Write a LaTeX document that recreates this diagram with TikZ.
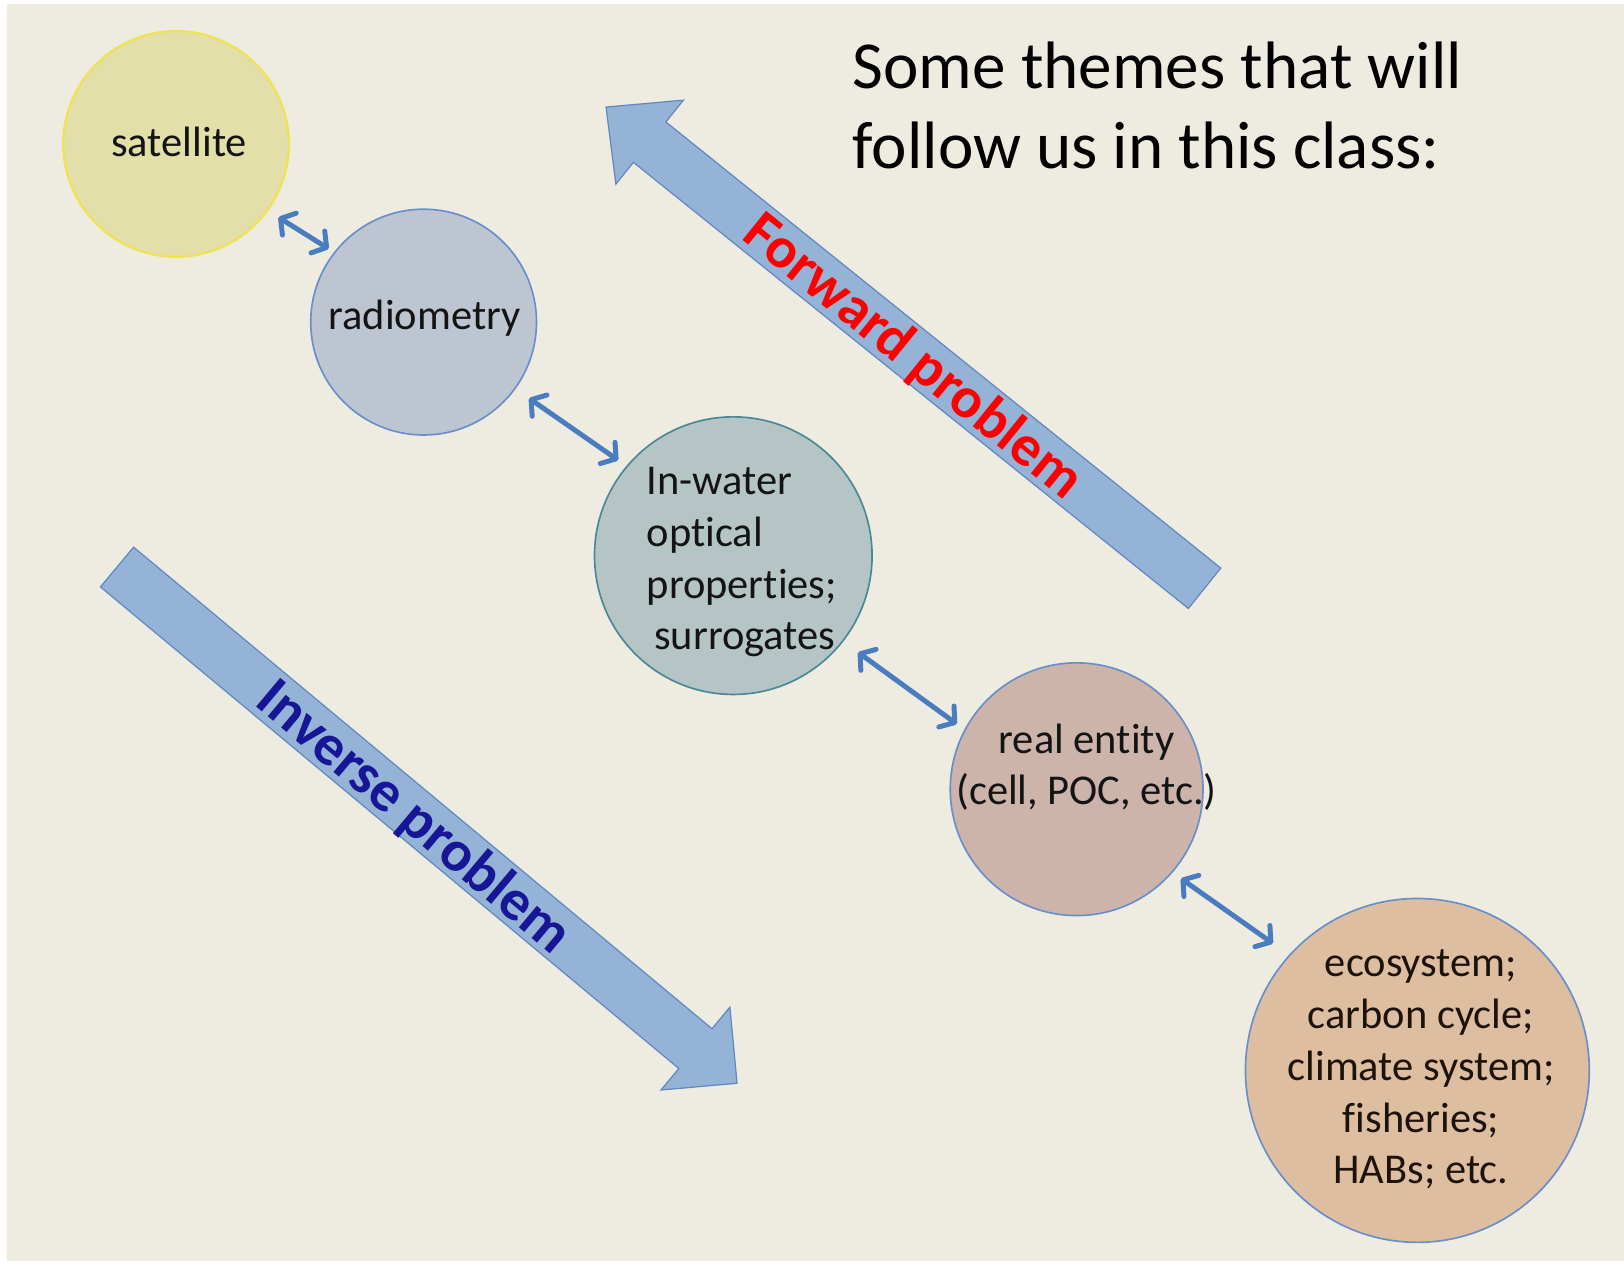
\documentclass[tikz,border=0pt]{standalone}
\usepackage{fontspec}
\setmainfont{Carlito}[Ligatures={NoCommon}]
\usetikzlibrary{arrows.meta}
\definecolor{bg}{RGB}{238,235,225}
\definecolor{linkblue}{RGB}{74,125,192}
\definecolor{blockfill}{RGB}{149,179,215}
\definecolor{blockdraw}{RGB}{98,136,194}
\definecolor{satfill}{RGB}{226,223,168}
\definecolor{satdraw}{RGB}{238,228,80}
\definecolor{radfill}{RGB}{189,198,208}
\definecolor{iopfill}{RGB}{181,196,196}
\definecolor{iopdraw}{RGB}{74,136,150}
\definecolor{realfill}{RGB}{204,180,170}
\definecolor{ecofill}{RGB}{222,190,161}
\definecolor{circdraw}{RGB}{104,143,203}
\definecolor{invblue}{RGB}{22,22,150}
\begin{document}
\begin{tikzpicture}[x=0.5pt,y=-0.5pt,
  bubble/.style={circle,inner sep=0pt,line width=0.8pt,draw=circdraw},
  bubbletext/.style={inner sep=0pt,text=black!92,font=\fontsize{20.5}{25}\selectfont},
  blockarrow/.style={fill=blockfill,draw=blockdraw,line width=0.6pt,line join=miter},
  arrowlabel/.style={inner sep=0pt,font=\fontsize{28}{30}\selectfont\bfseries},
  link/.style={draw=linkblue,line width=2.4pt,line cap=round,
    >={Straight Barb[length=5pt,width=12.5pt,line cap=round,line join=round]},<->}]
\useasboundingbox (0,0) rectangle (1568,1219);
\fill[white] (0,0) rectangle (1568,1219);
\fill[bg] (7,4) rectangle (1568,1217.5);

% block arrows
\begin{scope}[shift={(1163,568)},rotate=141.2]
  \draw[blockarrow] (0,-25) -- (687.5,-25) -- (687.5,-52) -- (741.5,0) -- (687.5,52) -- (687.5,25) -- (0,25) -- cycle;
\end{scope}
\begin{scope}[shift={(113,547.5)},rotate=-39.78]
  \draw[blockarrow] (0,-25) -- (726.7,-25) -- (726.7,-52) -- (779,0) -- (726.7,52) -- (726.7,25) -- (0,25) -- cycle;
\end{scope}
\node[arrowlabel,text=red,rotate=-39] (fwdT) at (881,345) {Forward problem};
\node[arrowlabel,text=invblue,rotate=-40] (invT) at (399,790) {Inverse problem};

% title
\node[anchor=west,align=left,inner sep=0pt,font=\fontsize{32.4}{38.5}\selectfont] (title) at (823,102)
  {Some themes that will\\follow us in this class:};

% circles
\node[bubble,fill=satfill,draw=satdraw,line width=1pt,minimum size=109pt] (sat) at (170,139) {};
\node[bubble,fill=radfill,minimum size=109pt] (rad) at (409,311) {};
\node[bubble,fill=iopfill,draw=iopdraw,minimum size=134pt] (iop) at (708,536.5) {};
\node[bubble,fill=realfill,minimum size=122pt] (real) at (1039.5,762) {};
\node[bubble,fill=ecofill,minimum size=166pt] (eco) at (1368.5,1033.5) {};

% circle texts
\node[bubbletext,anchor=base] (satT) at (173,151) {satellite};
\node[bubbletext,anchor=base] (radT) at (410,318) {radiometry};
\node[bubbletext,anchor=west,align=left] (iopT) at (624,542.75)
  {In-water\\optical\\properties;\\\hspace{0.18em}surrogates};
\node[bubbletext,align=center,font=\fontsize{20.5}{24.5}\selectfont] (realT) at (1049,740.75)
  {real entity\\(cell, POC, etc.)};
\node[bubbletext,align=center,text=black!85!brown] (ecoT) at (1372,1032.75)
  {ecosystem;\\carbon cycle;\\climate system;\\fisheries;\\HABs; etc.};

% connectors
\draw[link,shorten <=5.8pt,shorten >=3pt] (sat.-36) -- (rad.142);
\draw[link,shorten <=7.9pt,shorten >=4.8pt] (rad.-36) -- (iop.140);
\draw[link,shorten <=8.8pt,shorten >=4.5pt] (iop.-38) -- (real.152);
\draw[link,shorten <=4.9pt,shorten >=9.5pt] (real.-41) -- (eco.138);
\end{tikzpicture}
\end{document}
